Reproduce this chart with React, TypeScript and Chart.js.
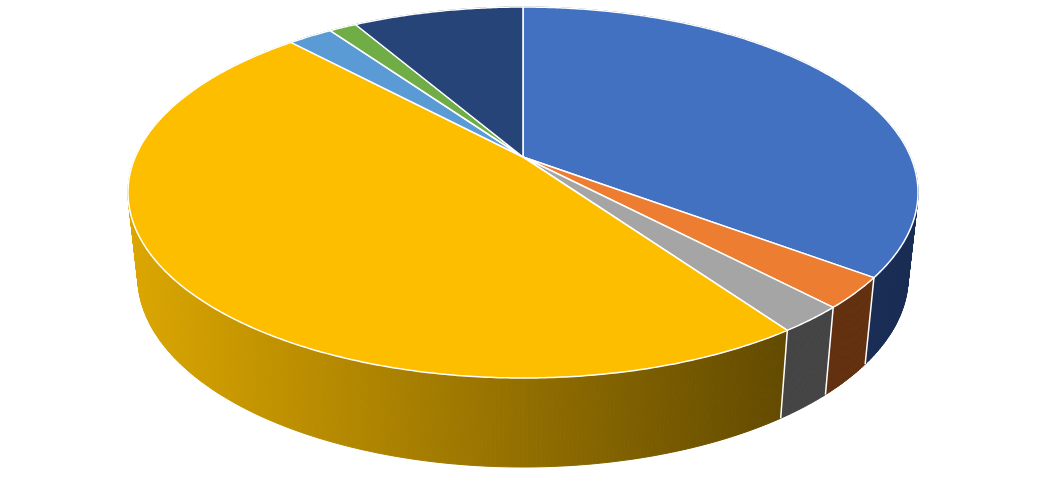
import React, { useEffect, useRef } from "react";
import { Chart, registerables } from "chart.js";

Chart.register(...registerables);

const categories = ["A", "B", "C", "D", "E", "F", "G"];
const shares = [35.2, 2.7, 2.35, 47.8, 2.2, 1.35, 8.4];
const topColors = ["#4371C2", "#ED7D31", "#A5A5A5", "#FDBE00", "#5B9BD5", "#70AD47", "#264478"];
const wallStart = ["#1B3260", "#6A3315", "#4A4A4A", "#DBA600", "#2A4A6A", "#375522", "#12213A"];
const wallEnd = ["#182C54", "#62300F", "#444444", "#624A00", "#2A4A6A", "#375522", "#12213A"];

const CX = 523;
const K = 0.1914;
const TOP = { a: 387.7, b: 178.7, cy: 157 };
const BOTTOM = { a: 378, b: 183, cy: 240.7 };

const project = (plane: { a: number; b: number; cy: number }, angle: number) => {
  const u = Math.cos(angle);
  const v = Math.sin(angle);
  const d = 1 - K * v;
  return { x: CX + (plane.a * u) / d, y: plane.cy + (plane.b * v) / d };
};

const pie3d = {
  id: "pie3d",
  beforeDatasetsDraw(chart: any) {
    const { ctx } = chart;
    const arcs = chart.getDatasetMeta(0).data;
    const step = Math.PI / 360;
    ctx.save();
    ctx.lineJoin = "round";

    arcs.forEach((arc: any, i: number) => {
      const g = ctx.createLinearGradient(132, 0, 785, 0);
      g.addColorStop(0, wallStart[i]);
      g.addColorStop(1, wallEnd[i]);
      ctx.fillStyle = g;
      ctx.strokeStyle = g;
      ctx.lineWidth = 1;
      for (let a = arc.startAngle; a < arc.endAngle; a += step) {
        const b = Math.min(a + step, arc.endAngle);
        const p1 = project(TOP, a);
        const p2 = project(TOP, b);
        const p3 = project(BOTTOM, b);
        const p4 = project(BOTTOM, a);
        ctx.beginPath();
        ctx.moveTo(p1.x, p1.y);
        ctx.lineTo(p2.x, p2.y);
        ctx.lineTo(p3.x, p3.y);
        ctx.lineTo(p4.x, p4.y);
        ctx.closePath();
        ctx.fill();
        ctx.stroke();
      }
    });

    ctx.strokeStyle = "#FFFFFF";
    ctx.lineWidth = 1.5;
    arcs.forEach((arc: any) => {
      const t = project(TOP, arc.endAngle);
      const b = project(BOTTOM, arc.endAngle);
      ctx.beginPath();
      ctx.moveTo(t.x, t.y);
      ctx.lineTo(b.x, b.y);
      ctx.stroke();
    });

    arcs.forEach((arc: any, i: number) => {
      ctx.beginPath();
      ctx.moveTo(CX, TOP.cy);
      for (let a = arc.startAngle; a < arc.endAngle; a += step) {
        const p = project(TOP, a);
        ctx.lineTo(p.x, p.y);
      }
      const e = project(TOP, arc.endAngle);
      ctx.lineTo(e.x, e.y);
      ctx.closePath();
      ctx.fillStyle = topColors[i];
      ctx.fill();
      ctx.strokeStyle = "#FFFFFF";
      ctx.lineWidth = 1.5;
      ctx.stroke();
    });

    ctx.restore();
    return false;
  },
};

export default function App() {
  const ref = useRef<HTMLCanvasElement>(null);
  useEffect(() => {
    const chart = new Chart(ref.current as HTMLCanvasElement, {
      type: "pie",
      data: {
        labels: categories,
        datasets: [{ data: shares, backgroundColor: topColors, borderColor: "#FFFFFF" }],
      },
      options: {
        animation: false,
        responsive: false,
        plugins: { legend: { display: false }, tooltip: { enabled: false } },
      },
      plugins: [pie3d],
    } as any);
    return () => chart.destroy();
  }, []);
  return (
    <canvas
      ref={ref}
      width={1045}
      height={479}
      style={{ position: "absolute", left: 0, top: 0, display: "block", filter: "blur(0.4px)" }}
    />
  );
}
